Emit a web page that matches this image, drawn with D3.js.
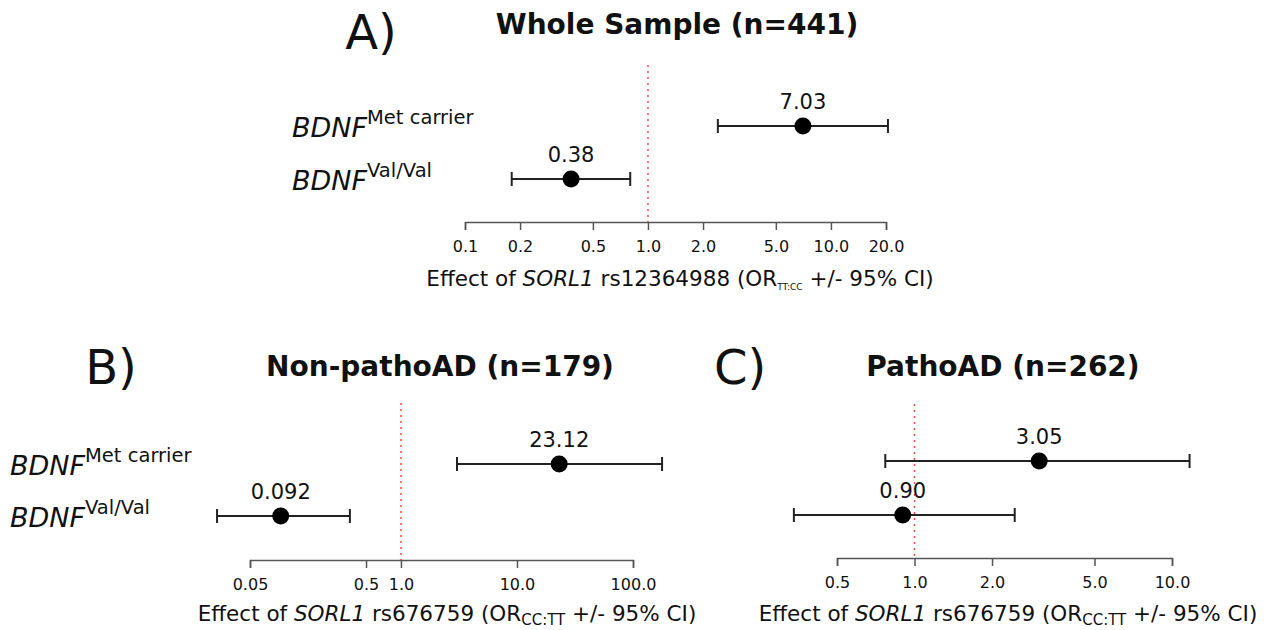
<!DOCTYPE html>
<html lang="en">
  <head>
    <meta charset="UTF-8" />
    <title>SORL1 x BDNF forest plots</title>
    <script src="https://cdnjs.cloudflare.com/ajax/libs/d3/7.8.5/d3.min.js"></script>
    <style>
      body {
        margin: 0;
        background: #fff;
      }
      text {
        font-family: "DejaVu Sans", Verdana, sans-serif;
        fill: #111;
      }
      .axis path,
      .axis line {
        stroke: #555;
        stroke-width: 1.5px;
      }
      .axis text {
        font-size: 16px;
        fill: #111;
      }
    </style>
  </head>
  <body>
    <div id="chart"></div>
    <script>
      // rows (top to bottom)
      const rowGroups = ["Met carrier", "Val/Val"];

      // A) whole sample
      const wholeOR = [7.03, 0.38];
      const wholeLower = [2.41, 0.18];
      const wholeUpper = [20.5, 0.8];
      const wholeLabels = ["7.03", "0.38"];
      const wholeTicks = [0.1, 0.2, 0.5, 1, 2, 5, 10, 20];
      const wholeTickLabels = ["0.1", "0.2", "0.5", "1.0", "2.0", "5.0", "10.0", "20.0"];

      // B) non-pathoAD
      const nonOR = [23.12, 0.092];
      const nonLower = [3.04, 0.026];
      const nonUpper = [178, 0.363];
      const nonLabels = ["23.12", "0.092"];
      const nonTicks = [0.05, 0.5, 1, 10, 100];
      const nonTickLabels = ["0.05", "0.5", "1.0", "10.0", "100.0"];

      // C) pathoAD
      const pathoOR = [3.05, 0.9];
      const pathoLower = [0.77, 0.34];
      const pathoUpper = [11.7, 2.45];
      const pathoLabels = ["3.05", "0.90"];
      const pathoTicks = [0.5, 1, 2, 5, 10];
      const pathoTickLabels = ["0.5", "1.0", "2.0", "5.0", "10.0"];

      const width = 1271;
      const height = 630;

      const svg = d3
        .select("#chart")
        .append("svg")
        .attr("width", width)
        .attr("height", height);

      const panels = [
        {
          letter: "A)", letterX: 371, letterY: 49, title: "Whole Sample (n=441)", titleX: 677, titleY: 34,
          x0: 465, x1: 886, axisY: 222, refTop: 65, rowY: [126, 179],
          showRows: true, rowX: 292, xlabelX: 680, xlabelY: 286,
          snp: "rs12364988", sub: "TT:CC", subSize: 9,
          or: wholeOR, lo: wholeLower, hi: wholeUpper, lab: wholeLabels,
          ticks: wholeTicks, tickLabels: wholeTickLabels
        },
        {
          letter: "B)", letterX: 111, letterY: 384, title: "Non-pathoAD (n=179)", titleX: 440, titleY: 376,
          x0: 250, x1: 633, axisY: 560, refTop: 403, rowY: [464, 516],
          showRows: true, rowX: 10, xlabelX: 447, xlabelY: 621,
          snp: "rs676759", sub: "CC:TT", subSize: 15,
          or: nonOR, lo: nonLower, hi: nonUpper, lab: nonLabels,
          ticks: nonTicks, tickLabels: nonTickLabels
        },
        {
          letter: "C)", letterX: 740, letterY: 384, title: "PathoAD (n=262)", titleX: 1003, titleY: 376,
          x0: 837, x1: 1172, axisY: 558, refTop: 404, rowY: [461, 515],
          showRows: false, rowX: 0, xlabelX: 1008, xlabelY: 621,
          snp: "rs676759", sub: "CC:TT", subSize: 15,
          or: pathoOR, lo: pathoLower, hi: pathoUpper, lab: pathoLabels,
          ticks: pathoTicks, tickLabels: pathoTickLabels
        }
      ];

      panels.forEach((p) => {
        const g = svg.append("g");
        const ticks = p.ticks;
        const x = d3
          .scaleLog()
          .domain([ticks[0], ticks[ticks.length - 1]])
          .range([p.x0, p.x1]);

        // panel letter
        g.append("text")
          .attr("x", p.letterX)
          .attr("y", p.letterY)
          .attr("text-anchor", "middle")
          .style("font-size", "48px")
          .text(p.letter);

        // title
        g.append("text")
          .attr("x", p.titleX)
          .attr("y", p.titleY)
          .attr("text-anchor", "middle")
          .style("font-size", "28px")
          .style("font-weight", "bold")
          .text(p.title);

        // reference line at OR = 1
        g.append("line")
          .attr("x1", x(1))
          .attr("x2", x(1))
          .attr("y1", p.refTop)
          .attr("y2", p.axisY)
          .attr("stroke", "#f0504a")
          .attr("stroke-width", 1.5)
          .attr("stroke-dasharray", "2,4");

        // axis
        const axis = d3
          .axisBottom(x)
          .tickValues(ticks)
          .tickFormat((d, i) => p.tickLabels[i])
          .tickSizeOuter(0)
          .tickSize(8)
          .tickPadding(11);

        g.append("g")
          .attr("class", "axis")
          .attr("transform", `translate(0,${p.axisY})`)
          .call(axis);

        // x label
        const xl = g
          .append("text")
          .attr("x", p.xlabelX)
          .attr("y", p.xlabelY)
          .attr("text-anchor", "middle")
          .style("font-size", "21.5px");
        xl.append("tspan").text("Effect of ");
        xl.append("tspan").style("font-style", "italic").text("SORL1");
        xl.append("tspan").text(` ${p.snp} (OR`);
        xl.append("tspan")
          .attr("dy", 4)
          .style("font-size", p.subSize + "px")
          .text(p.sub);
        xl.append("tspan").attr("dy", -4).text(" +/- 95% CI)");

        // rows
        p.or.forEach((v, i) => {
          const y = p.rowY[i];
          const row = g.append("g");
          row
            .append("line")
            .attr("x1", x(p.lo[i]))
            .attr("x2", x(p.hi[i]))
            .attr("y1", y)
            .attr("y2", y)
            .attr("stroke", "#222")
            .attr("stroke-width", 2);
          [p.lo[i], p.hi[i]].forEach((e) => {
            row
              .append("line")
              .attr("x1", x(e))
              .attr("x2", x(e))
              .attr("y1", y - 7)
              .attr("y2", y + 7)
              .attr("stroke", "#222")
              .attr("stroke-width", 2);
          });
          row
            .append("circle")
            .attr("cx", x(v))
            .attr("cy", y)
            .attr("r", 8.5)
            .attr("fill", "#000");
          row
            .append("text")
            .attr("x", x(v))
            .attr("y", y - 17)
            .attr("text-anchor", "middle")
            .style("font-size", "21px")
            .text(p.lab[i]);

          if (p.showRows) {
            const t = row
              .append("text")
              .attr("x", p.rowX)
              .attr("y", y + 11)
              .style("font-size", "27px");
            t.append("tspan").style("font-style", "italic").text("BDNF");
            t.append("tspan")
              .attr("dy", -13)
              .style("font-size", "19.5px")
              .text(rowGroups[i]);
          }
        });
      });
    </script>
  </body>
</html>
